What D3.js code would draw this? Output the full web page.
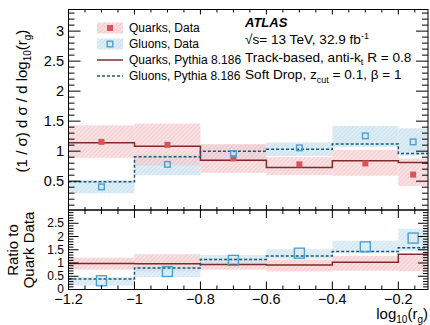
<!DOCTYPE html>
<html><head><meta charset="utf-8">
<script src="https://cdn.jsdelivr.net/npm/d3@7"></script>
<style>body{margin:0;background:#fff}svg{display:block}text{font-family:"Liberation Sans",Arial,sans-serif;fill:#000}</style>
</head><body><svg id="c" width="430" height="325"></svg>
<script>
// ---- data ----
const binEdges = [-1.2, -1.0, -0.8, -0.6, -0.4, -0.2, -0.11];
const quarkData   = [1.155, 1.105, 0.88, 0.78, 0.795, 0.61];
const quarkDataLo = [0.89, 0.76, 0.64, 0.60, 0.59, 0.42];
const quarkDataHi = [1.43, 1.46, 1.12, 0.90, 1.02, 0.88];
const gluonData   = [0.405, 0.78, 0.96, 1.055, 1.255, 1.155];
const gluonDataLo = [0.30, 0.60, 0.82, 0.92, 1.07, 0.93];
const gluonDataHi = [0.52, 0.95, 1.10, 1.145, 1.42, 1.38];
const quarkPythia = [1.14, 1.08, 0.85, 0.73, 0.84, 0.81];
const gluonPythia = [0.49, 0.905, 1.0, 1.03, 1.12, 0.96];
// ratio to quark data
const ratioQuarkPythia = [0.98, 0.97, 0.94, 0.92, 1.03, 1.33];
const ratioQuarkLo = [0.75, 0.68, 0.75, 0.68, 0.71, 0.69];
const ratioQuarkHi = [1.20, 1.33, 1.20, 1.13, 1.26, 1.33];
const ratioGluonData = [0.33, 0.68, 1.10, 1.37, 1.61, 1.94];
const ratioGluonPythia = [0.40, 0.815, 1.13, 1.26, 1.43, 1.58];
const ratioGluonLo = [0.15, 0.47, 0.94, 1.16, 1.39, 1.45];
const ratioGluonHi = [0.47, 0.88, 1.30, 1.52, 1.84, 2.29];
const xTicks = [-1.2, -1.0, -0.8, -0.6, -0.4, -0.2];
const xTickLabels = ["\u22121.2", "\u22121", "\u22120.8", "\u22120.6", "\u22120.4", "\u22120.2"];
const yTopTicks = [0.5, 1, 1.5, 2, 2.5, 3];
const yTopTickLabels = ["0.5", "1", "1.5", "2", "2.5", "3"];
const yBotTicks = [0, 0.5, 1, 1.5, 2, 2.5];
const yBotTickLabels = ["0", "0.5", "1", "1.5", "2", "2.5"];
const legendLabels = ["Quarks, Data", "Gluons, Data", "Quarks, Pythia 8.186", "Gluons, Pythia 8.186"];

// ---- style ----
const cRedMark = "#d9535a", cBlueMark = "#4d9fcd";
const cQLine = "#7f2b2b", cGLine = "#1e5573";

const svg = d3.select("#c");
const L = 68.5, R = 428, T = 9.5, M = 210, B = 289.5;
const x = d3.scaleLinear().domain([-1.2, -0.11]).range([L, R]);
const yT = d3.scaleLinear().domain([0.02, 3.36]).range([M, T]);
const yB = d3.scaleLinear().domain([0, 3.0]).range([B, M]);

// patterns
const defs = svg.append("defs");
function hatch(id, bg, fg) {
  const p = defs.append("pattern").attr("id", id).attr("width", 3).attr("height", 3)
    .attr("patternUnits", "userSpaceOnUse").attr("patternTransform", "rotate(45)");
  p.append("rect").attr("width", 3).attr("height", 3).attr("fill", bg);
  p.append("line").attr("x1", 0).attr("y1", 0).attr("x2", 0).attr("y2", 3)
    .attr("stroke", fg).attr("stroke-width", 1.2);
}
hatch("hr", "#f7d3d5", "#eeaaae");
hatch("hb", "#d7e9f3", "#b5d7ea");

const idx = d3.range(quarkData.length);
const mid = i => (binEdges[i] + binEdges[i + 1]) / 2;

function bands(g, y, lo, hi, fill, op) {
  g.selectAll(null).data(idx).join("rect")
    .attr("x", i => x(binEdges[i])).attr("width", i => x(binEdges[i + 1]) - x(binEdges[i]))
    .attr("y", i => y(hi[i])).attr("height", i => y(lo[i]) - y(hi[i]))
    .attr("fill", fill).attr("opacity", op);
}
function steps(g, y, vals, color, dash) {
  const pts = [];
  idx.forEach(i => { pts.push([x(binEdges[i]), y(vals[i])]); pts.push([x(binEdges[i + 1]), y(vals[i])]); });
  g.append("path").attr("d", d3.line()(pts)).attr("fill", "none")
    .attr("stroke", color).attr("stroke-width", 1.5).attr("stroke-dasharray", dash || null);
}

// ---- top panel ----
const gt = svg.append("g");
bands(gt, yT, gluonDataLo, gluonDataHi, "url(#hb)", 0.85);
bands(gt, yT, quarkDataLo, quarkDataHi, "url(#hr)", 0.7);
steps(gt, yT, quarkPythia, cQLine);
steps(gt, yT, gluonPythia, cGLine, "3,2");
gt.selectAll(null).data(idx).join("rect")
  .attr("x", i => x(mid(i)) - 3).attr("y", i => yT(quarkData[i]) - 3)
  .attr("width", 6).attr("height", 6).attr("fill", cRedMark);
gt.selectAll(null).data(idx).join("rect")
  .attr("x", i => x(mid(i)) - 2.8).attr("y", i => yT(gluonData[i]) - 2.8)
  .attr("width", 5.6).attr("height", 5.6).attr("fill", "none").attr("stroke", cBlueMark).attr("stroke-width", 1.4);

// ---- bottom panel ----
const gb = svg.append("g");
bands(gb, yB, ratioQuarkLo, ratioQuarkHi, "url(#hr)", 0.75);
bands(gb, yB, ratioGluonLo, ratioGluonHi, "url(#hb)", 0.75);
steps(gb, yB, ratioQuarkPythia, cQLine);
steps(gb, yB, ratioGluonPythia, cGLine, "3,2");
gb.selectAll(null).data(idx).join("rect")
  .attr("x", i => x(mid(i)) - 5).attr("y", i => yB(ratioGluonData[i]) - 5)
  .attr("width", 10).attr("height", 10).attr("fill", "none").attr("stroke", cBlueMark).attr("stroke-width", 1.4);

// ---- frames and ticks ----
const ax = svg.append("g").attr("stroke", "#000").attr("stroke-width", 1).attr("fill", "none");
ax.append("rect").attr("x", L).attr("y", T).attr("width", R - L).attr("height", M - T);
ax.append("rect").attr("x", L).attr("y", M).attr("width", R - L).attr("height", B - M);
const xMinor = d3.range(-1.2, -0.1, 0.05).filter(v => v <= -0.11);
function xt(yLine, dir, lenMaj, lenMin) {
  xMinor.forEach(v => {
    const isMaj = xTicks.some(t => Math.abs(t - v) < 1e-6);
    const len = isMaj ? lenMaj : lenMin;
    ax.append("line").attr("x1", x(v)).attr("x2", x(v)).attr("y1", yLine).attr("y2", yLine + dir * len);
  });
}
xt(T, 1, 5, 3); xt(M, -1, 5, 3); xt(M, 1, 8, 4); xt(B, -1, 8, 4);
function yt(y, lo, hi, step, majors, lenMaj, lenMin) {
  d3.range(lo, hi + 1e-9, step).forEach(v => {
    const isMaj = majors.some(t => Math.abs(t - v) < 1e-6);
    const len = isMaj ? lenMaj : lenMin;
    ax.append("line").attr("x1", L).attr("x2", L + len).attr("y1", y(v)).attr("y2", y(v));
    ax.append("line").attr("x1", R).attr("x2", R - len).attr("y1", y(v)).attr("y2", y(v));
  });
}
yt(yT, 0.1, 3.3, 0.1, yTopTicks, 12, 6);
yt(yB, 0.1, 2.9, 0.1, yBotTicks, 10, 5);

// tick labels
const fs = 14.5;
xTicks.forEach((v, i) => svg.append("text").attr("x", x(v)).attr("y", 304)
  .attr("text-anchor", "middle").attr("font-size", fs).text(xTickLabels[i]));
yTopTicks.forEach((v, i) => svg.append("text").attr("x", 64).attr("y", yT(v) + 5)
  .attr("text-anchor", "end").attr("font-size", fs).text(yTopTickLabels[i]));
yBotTicks.forEach((v, i) => svg.append("text").attr("x", 64).attr("y", yB(v) + 4.2 - (i === 0 ? 1 : 0))
  .attr("text-anchor", "end").attr("font-size", 12).text(yBotTickLabels[i]));

// axis titles
const xt1 = svg.append("text").attr("x", R).attr("y", 319).attr("text-anchor", "end").attr("font-size", 15);
xt1.append("tspan").text("log");
xt1.append("tspan").attr("font-size", 10).attr("dy", 4).text("10");
xt1.append("tspan").attr("dy", -4).text("(r");
xt1.append("tspan").attr("font-size", 10).attr("dy", 4).text("g");
xt1.append("tspan").attr("dy", -4).text(")");

const yt1 = svg.append("text").attr("transform", "translate(27,101) rotate(-90)")
  .attr("text-anchor", "middle").attr("font-size", 15);
yt1.append("tspan").text("(1 / \u03c3) d \u03c3 / d log");
yt1.append("tspan").attr("font-size", 10).attr("dy", 4).text("10");
yt1.append("tspan").attr("dy", -4).text("(r");
yt1.append("tspan").attr("font-size", 10).attr("dy", 4).text("g");
yt1.append("tspan").attr("dy", -4).text(")");

const yt2 = svg.append("text").attr("transform", "translate(0,250) rotate(-90)")
  .attr("text-anchor", "middle").attr("font-size", 15);
yt2.append("tspan").attr("x", 0).attr("y", 18).text("Ratio to");
yt2.append("tspan").attr("x", 0).attr("y", 34).text("Quark Data");

// legend
const lg = svg.append("g");
const lx = 97, lw = 26, ly = [28, 44, 60, 76];
lg.append("rect").attr("x", lx).attr("y", ly[0] - 5.5).attr("width", lw).attr("height", 11).attr("fill", "url(#hr)").attr("opacity", 0.75);
lg.append("rect").attr("x", lx + lw / 2 - 3).attr("y", ly[0] - 3).attr("width", 6).attr("height", 6).attr("fill", cRedMark);
lg.append("rect").attr("x", lx).attr("y", ly[1] - 5.5).attr("width", lw).attr("height", 11).attr("fill", "url(#hb)").attr("opacity", 0.85);
lg.append("rect").attr("x", lx + lw / 2 - 2.8).attr("y", ly[1] - 2.8).attr("width", 5.6).attr("height", 5.6).attr("fill", "none").attr("stroke", cBlueMark).attr("stroke-width", 1.4);
lg.append("line").attr("x1", lx).attr("x2", lx + lw).attr("y1", ly[2]).attr("y2", ly[2]).attr("stroke", cQLine).attr("stroke-width", 1.5);
lg.append("line").attr("x1", lx).attr("x2", lx + lw).attr("y1", ly[3]).attr("y2", ly[3]).attr("stroke", cGLine).attr("stroke-width", 1.5).attr("stroke-dasharray", "3,2");
legendLabels.forEach((t, i) => lg.append("text").attr("x", 129).attr("y", ly[i] + 4).attr("font-size", 12).text(t));

// ATLAS text
const ax0 = 245;
svg.append("text").attr("x", ax0).attr("y", 27).attr("font-size", 13).attr("font-weight", "bold").attr("font-style", "italic").text("ATLAS");
const t1 = svg.append("text").attr("x", ax0).attr("y", 44).attr("font-size", 13.6);
t1.append("tspan").text("\u221as= 13 TeV, 32.9 fb");
t1.append("tspan").attr("font-size", 9).attr("dy", -5).text("-1");
const t2 = svg.append("text").attr("x", ax0).attr("y", 62).attr("font-size", 13.6);
t2.append("tspan").text("Track-based, anti-k");
t2.append("tspan").attr("font-size", 9).attr("dy", 3).text("t");
t2.append("tspan").attr("dy", -3).text(" R = 0.8");
const t3 = svg.append("text").attr("x", ax0).attr("y", 79).attr("font-size", 13.6);
t3.append("tspan").text("Soft Drop, z");
t3.append("tspan").attr("font-size", 9).attr("dy", 4).text("cut");
t3.append("tspan").attr("dy", -4).text(" = 0.1, \u03b2 = 1");
</script></body></html>
